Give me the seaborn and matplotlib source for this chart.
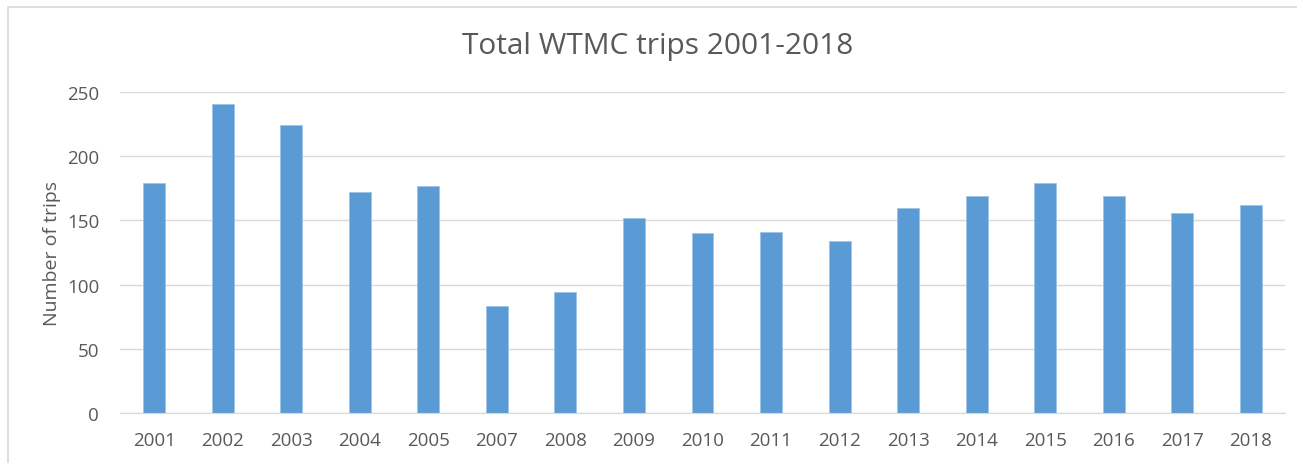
import matplotlib
matplotlib.use("Agg")
import matplotlib.pyplot as plt
from matplotlib.patches import Rectangle
import pandas as pd
import seaborn as sns

# data
years = ["2001", "2002", "2003", "2004", "2005", "2007", "2008", "2009", "2010",
         "2011", "2012", "2013", "2014", "2015", "2016", "2017", "2018"]
trips = [179, 241, 224, 172, 177, 83, 94, 152, 140, 141, 134, 160, 169, 179, 169, 156, 162]

df = pd.DataFrame({"Year": years, "Trips": trips})

sns.set_style("white")
plt.rcParams['font.family'] = ['Open Sans', 'DejaVu Sans']

txt = "#595959"
fig = plt.figure(figsize=(12.97, 4.64), dpi=100)
ax = fig.add_axes([120 / 1297, 1 - 414 / 464, 1165 / 1297, 321 / 464])

sns.barplot(data=df, x="Year", y="Trips", color="#5B9BD5", width=0.32,
            saturation=1, ax=ax, edgecolor="#9DC3E6", linewidth=0.6)

ax.set_ylim(0, 250)
ax.set_yticks(range(0, 251, 50))
ax.yaxis.grid(True, color="#D9D9D9", linewidth=1)
ax.set_axisbelow(True)
for s in ["top", "right", "left"]:
    ax.spines[s].set_visible(False)
ax.spines["bottom"].set_color("#D9D9D9")
ax.tick_params(axis="both", length=0, labelsize=13.5, colors=txt)
ax.tick_params(axis="y", pad=15)
ax.tick_params(axis="x", pad=13)
ax.set_xlabel("")
ax.set_ylabel("Number of trips", fontsize=14, color=txt, labelpad=4)
fig.text(658 / 1297, 1 - 47 / 464, "Total WTMC trips 2001-2018", ha="center", va="center",
         fontsize=21.5, color=txt)

# outer chart border
fig.patches.append(Rectangle((8 / 1297, -0.1), 1.2, 1 - 8 / 464 + 0.1,
                             transform=fig.transFigure, fill=False,
                             edgecolor="#D9D9D9", linewidth=1.2))

plt.savefig("out.png", dpi=100)
